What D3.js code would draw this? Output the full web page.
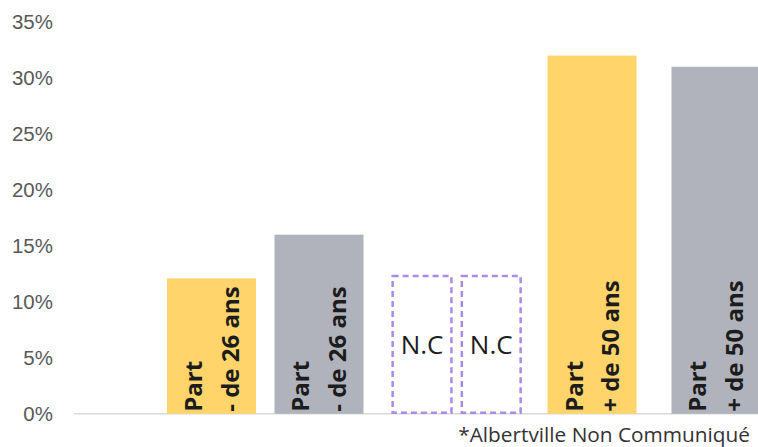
<!DOCTYPE html>
<html><head><meta charset="utf-8">
<script src="https://cdn.jsdelivr.net/npm/d3@7"></script>
<style>body{margin:0;background:#fff;} svg{display:block;}</style>
</head><body>
<svg id="chart" width="758" height="447"></svg>
<script>
// Data
const groups = ["- de 26 ans", "N.C", "+ de 50 ans"];
const series = ["Albertville", "Référence"];
const valuesYoung = [12.1, 16];     // Part - de 26 ans
const valuesOld = [32, 31];         // Part + de 50 ans
const ncValue = 12.3;               // height of N.C placeholder boxes
const yTicks = [0, 5, 10, 15, 20, 25, 30, 35];
const barLabels = ["Part", "- de 26 ans", "Part", "+ de 50 ans"];
const ncLabel = "N.C";
const footnote = "*Albertville Non Communiqué";
const colors = ["#FED46B", "#B0B3BC"];

const svg = d3.select("#chart");
const y = d3.scaleLinear().domain([0, 35]).range([413.8, 22]);
const x0 = d3.scalePoint().domain(groups).range([265.25, 654]);
// inner scales per group (layout)
const inner = {
  [groups[0]]: d3.scaleBand().domain(series).range([-98.25, 98.25]).paddingInner(0.172),
  [groups[1]]: d3.scaleBand().domain(series).range([-67, 61]).paddingInner(0.15),
  [groups[2]]: d3.scaleBand().domain(series).range([-106.5, 106.5]).paddingInner(0.282)
};

// Y axis labels
const yAxis = d3.axisLeft(y).tickValues(yTicks).tickFormat(d => d + "%").tickSize(0).tickPadding(0);
const ga = svg.append("g").attr("transform", "translate(53,0)").call(yAxis);
ga.select(".domain").remove();
ga.selectAll("text").attr("font-family", "Liberation Sans, Arial, sans-serif")
  .attr("font-size", 20.5).attr("fill", "#595959");

// baseline
svg.append("line").attr("x1", 74).attr("x2", 758).attr("y1", y(0)).attr("y2", y(0))
  .attr("stroke", "#d9d9d9").attr("stroke-width", 1.5);

const barData = [
  {g: groups[0], s: series[0], v: valuesYoung[0], lab: [barLabels[0], barLabels[1]]},
  {g: groups[0], s: series[1], v: valuesYoung[1], lab: [barLabels[0], barLabels[1]]},
  {g: groups[2], s: series[0], v: valuesOld[0], lab: [barLabels[2], barLabels[3]]},
  {g: groups[2], s: series[1], v: valuesOld[1], lab: [barLabels[2], barLabels[3]]}
];

svg.selectAll("rect.bar").data(barData).enter().append("rect").attr("class", "bar")
  .attr("x", d => x0(d.g) + inner[d.g](d.s)).attr("width", d => inner[d.g].bandwidth())
  .attr("y", d => y(d.v)).attr("height", d => y(0) - y(d.v))
  .attr("fill", d => colors[series.indexOf(d.s)]);

// rotated labels inside bars
barData.forEach(d => {
  const cx = x0(d.g) + inner[d.g](d.s) + inner[d.g].bandwidth() / 2;
  const t = svg.append("text")
    .attr("transform", `translate(${cx - 0.5},${y(0) - 2}) rotate(-90)`)
    .attr("font-family", "Open Sans, sans-serif").attr("font-weight", "bold")
    .attr("font-size", 24).attr("fill", "#1c1c1c");
  t.append("tspan").attr("x", 0).attr("dy", -9).text(d.lab[0]);
  t.append("tspan").attr("x", 0).attr("dy", 36.5).text(d.lab[1]);
});

// N.C placeholder boxes
series.forEach(s => {
  const sc = inner[groups[1]];
  const bx = x0(groups[1]) + sc(s);
  svg.append("rect").attr("x", bx).attr("width", sc.bandwidth())
    .attr("y", y(ncValue)).attr("height", y(0) - y(ncValue) - 1)
    .attr("fill", "none").attr("stroke", "#A98BEA").attr("stroke-width", 2.5)
    .attr("stroke-dasharray", "6,4");
  svg.append("text").attr("x", bx + sc.bandwidth() / 2).attr("y", (y(ncValue) + y(0)) / 2 + 9)
    .attr("text-anchor", "middle").attr("font-family", "Open Sans, sans-serif")
    .attr("font-size", 26).attr("fill", "#1c1c1c").text(ncLabel);
});

// footnote
svg.append("text").attr("x", 750).attr("y", 442).attr("text-anchor", "end")
  .attr("font-family", "Open Sans, sans-serif").attr("font-size", 20.8)
  .attr("fill", "#333").text(footnote);
</script>
</body></html>
